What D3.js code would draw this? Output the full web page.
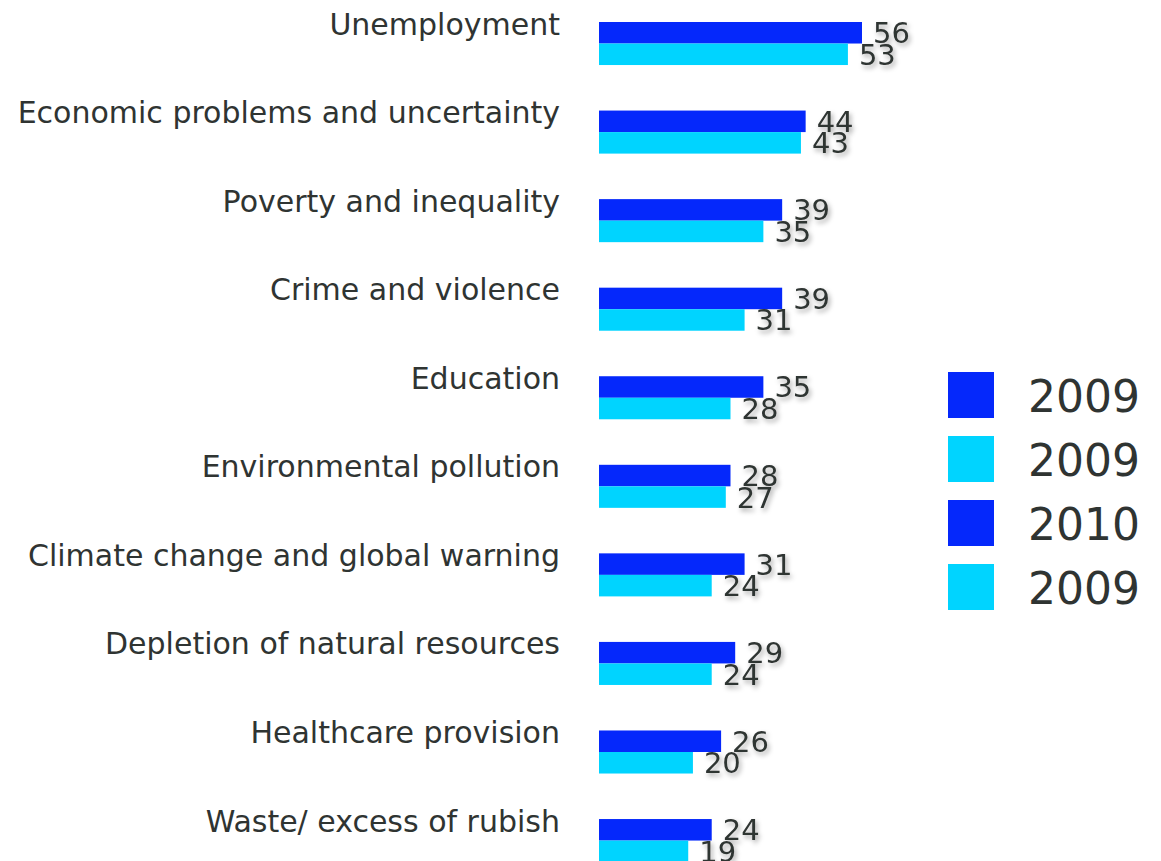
<!DOCTYPE html>
<html>
<head>
<meta charset="utf-8">
<script src="https://cdn.jsdelivr.net/npm/d3@7"></script>
<style>
  body { margin: 0; background: #fff; }
  svg text { font-family: "DejaVu Sans", sans-serif; fill: #2f3432; }
</style>
</head>
<body>
<svg id="chart" width="1161" height="861"></svg>
<script>
// categories, top to bottom
var categories = [
  "Unemployment",
  "Economic problems and uncertainty",
  "Poverty and inequality",
  "Crime and violence",
  "Education",
  "Environmental pollution",
  "Climate change and global warning",
  "Depletion of natural resources",
  "Healthcare provision",
  "Waste/ excess of rubish"
];
var values2010 = [56, 44, 39, 39, 35, 28, 31, 29, 26, 24];
var values2009 = [53, 43, 35, 31, 28, 27, 24, 24, 20, 19];
var seriesKeys = ["2010", "2009"];
var legendLabels = ["2009", "2009", "2010", "2009"];
var legendKeys = ["2010", "2009", "2010", "2009"];

var colors = { "2010": "#0528fb", "2009": "#00d4ff" };

var svg = d3.select('#chart');

var defs = svg.append("defs");
var f = defs.append("filter").attr("id", "shadow")
  .attr("x", "-20%").attr("y", "-20%").attr("width", "160%").attr("height", "160%");
f.append("feDropShadow")
  .attr("dx", 2).attr("dy", 3).attr("stdDeviation", 2.5)
  .attr("flood-color", "#000").attr("flood-opacity", 0.35);

var step = 88.56;
var rows = categories.map(function(c, i){
  return { cat: c, "2010": values2010[i], "2009": values2009[i] };
});

var x = d3.scaleLinear().domain([0, 56]).range([599, 862]);
var y = d3.scaleBand().domain(categories)
  .range([22 - 0.257 * step, 22 - 0.257 * step + 10 * step])
  .paddingInner(0.514).paddingOuter(0.257);
var ys = d3.scaleBand().domain(seriesKeys).range([0, y.bandwidth()]);

var groups = svg.append("g").selectAll("g.row")
  .data(rows).enter().append("g")
  .attr("class", "row")
  .attr("transform", function(d){ return "translate(0," + y(d.cat) + ")"; });

// category labels
groups.append("text")
  .attr("x", 560)
  .attr("y", y.bandwidth() / 2 - 9)
  .attr("text-anchor", "end")
  .style("font-size", "30px")
  .text(function(d){ return d.cat; });

seriesKeys.forEach(function(k){
  groups.append("rect")
    .attr("x", x(0))
    .attr("y", ys(k))
    .attr("width", function(d){ return x(d[k]) - x(0); })
    .attr("height", ys.bandwidth())
    .attr("fill", colors[k]);
});

seriesKeys.forEach(function(k){
  groups.append("text")
    .attr("x", function(d){ return x(d[k]) + 11; })
    .attr("y", ys(k) + ys.bandwidth() / 2)
    .attr("dy", "0.36em")
    .attr("filter", "url(#shadow)")
    .style("font-size", "29px")
    .text(function(d){ return d[k]; });
});

// legend
var legend = svg.append("g").selectAll("g")
  .data(legendLabels).enter().append("g")
  .attr("transform", function(d, i){ return "translate(948," + (372 + i * 64) + ")"; });
legend.append("rect")
  .attr("width", 46).attr("height", 46)
  .attr("fill", function(d, i){ return colors[legendKeys[i]]; });
legend.append("text")
  .attr("x", 80).attr("y", 40)
  .style("font-size", "44px")
  .text(function(d){ return d; });
</script>
</body>
</html>
